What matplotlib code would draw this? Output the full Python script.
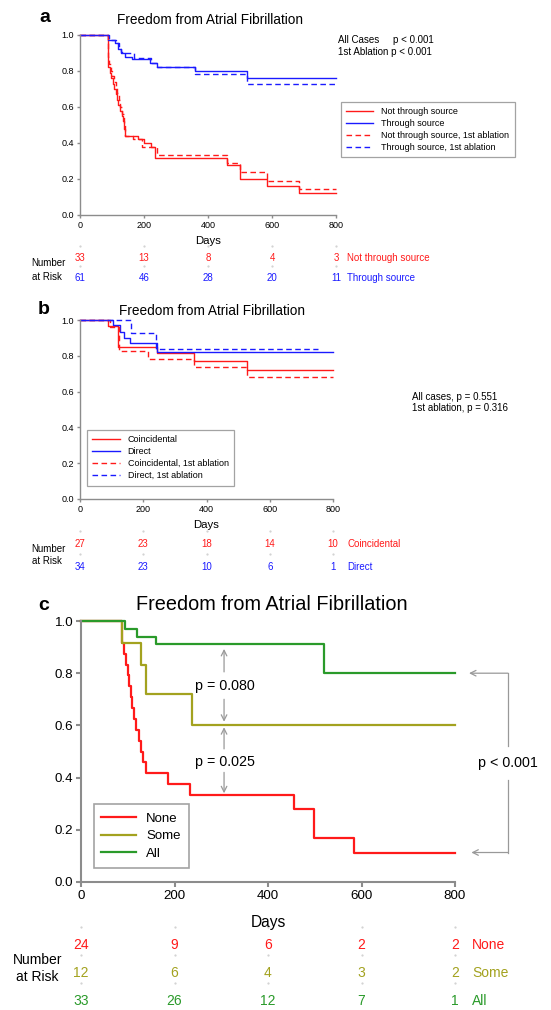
import matplotlib
matplotlib.use("Agg")
import matplotlib.pyplot as plt
from matplotlib.ticker import FormatStrFormatter
from matplotlib.transforms import blended_transform_factory

plt.rcParams['font.family'] = ['Liberation Sans', 'DejaVu Sans']

W, H = 551, 1010

# ---- data ----
day_ticks = [0, 200, 400, 600, 800]
surv_ticks = [0.0, 0.2, 0.4, 0.6, 0.8, 1.0]

# panel a
a_not_t = [0, 88, 89, 94, 98, 102, 107, 112, 117, 120, 125, 130, 133, 138, 141, 180, 200, 222, 234, 458, 500, 583, 685, 800]
a_not_s = [1.0, 0.85, 0.82, 0.79, 0.76, 0.73, 0.70, 0.67, 0.64, 0.61, 0.58, 0.55, 0.52, 0.48, 0.44, 0.42, 0.40, 0.38, 0.315, 0.28, 0.20, 0.16, 0.12, 0.12]
a_thr_t = [0, 88, 109, 120, 127, 141, 161, 219, 240, 360, 521, 800]
a_thr_s = [1.0, 0.975, 0.955, 0.925, 0.90, 0.88, 0.865, 0.845, 0.82, 0.80, 0.76, 0.76]
a_not1_t = [0, 88, 92, 96, 101, 106, 111, 116, 121, 126, 131, 136, 141, 165, 195, 240, 458, 500, 583, 685, 800]
a_not1_s = [1.0, 0.88, 0.84, 0.80, 0.77, 0.74, 0.71, 0.68, 0.64, 0.60, 0.56, 0.50, 0.44, 0.42, 0.38, 0.335, 0.29, 0.24, 0.19, 0.145, 0.145]
a_thr1_t = [0, 90, 111, 122, 129, 141, 170, 222, 240, 360, 521, 800]
a_thr1_s = [1.0, 0.975, 0.955, 0.925, 0.905, 0.90, 0.87, 0.845, 0.82, 0.785, 0.73, 0.73]
a_labels = ["Not through source", "Through source", "Not through source, 1st ablation", "Through source, 1st ablation"]
a_risk_not = [33, 13, 8, 4, 3]
a_risk_thr = [61, 46, 28, 20, 11]

# panel b
b_coin_t = [0, 90, 119, 243, 359, 527, 800]
b_coin_s = [1.0, 0.965, 0.85, 0.815, 0.77, 0.72, 0.72]
b_dir_t = [0, 105, 125, 140, 158, 243, 800]
b_dir_s = [1.0, 0.97, 0.935, 0.90, 0.87, 0.82, 0.82]
b_coin1_t = [0, 95, 123, 216, 359, 527, 800]
b_coin1_s = [1.0, 0.96, 0.825, 0.78, 0.74, 0.68, 0.68]
b_dir1_t = [0, 161, 240, 753]
b_dir1_s = [1.0, 0.93, 0.84, 0.84]
b_labels = ["Coincidental", "Direct", "Coincidental, 1st ablation", "Direct, 1st ablation"]
b_risk_coin = [27, 23, 18, 14, 10]
b_risk_dir = [34, 23, 10, 6, 1]

# panel c
c_none_t = [0, 87, 92, 96, 100, 103, 106, 110, 114, 118, 123, 128, 133, 140, 187, 233, 455, 498, 585, 800]
c_none_s = [1.0, 0.917, 0.875, 0.833, 0.792, 0.75, 0.708, 0.667, 0.625, 0.583, 0.542, 0.50, 0.458, 0.417, 0.375, 0.333, 0.278, 0.167, 0.111, 0.111]
c_some_t = [0, 87, 128, 139, 237, 800]
c_some_s = [1.0, 0.917, 0.833, 0.72, 0.60, 0.60]
c_all_t = [0, 94, 120, 160, 520, 800]
c_all_s = [1.0, 0.97, 0.94, 0.91, 0.80, 0.80]
c_labels = ["None", "Some", "All"]
c_risk_none = [24, 9, 6, 2, 2]
c_risk_some = [12, 6, 4, 3, 2]
c_risk_all = [33, 26, 12, 7, 1]

RED = '#ff1a1a'
BLUE = '#1a1aff'
OLIVE = '#a3a21f'
GREEN = '#2a9a2a'
GREY = '#8c8c8c'


def fx(px):
    return px / W


def fy(py):
    return 1 - py / H


def style_axes(ax, fs, lw, tlen):
    for s in ['top', 'right']:
        ax.spines[s].set_visible(False)
    for s in ['left', 'bottom']:
        ax.spines[s].set_color(GREY)
        ax.spines[s].set_linewidth(lw)
    ax.set_xlim(0, 800)
    ax.set_ylim(0, 1)
    ax.set_xticks(day_ticks)
    ax.set_yticks(surv_ticks)
    ax.yaxis.set_major_formatter(FormatStrFormatter('%.1f'))
    ax.tick_params(direction='out', length=tlen, width=lw, color=GREY, labelsize=fs, pad=2)


def risk_rows(ax, rows, ys, colors, names, fs, label_x, dot_dy):
    tr = blended_transform_factory(ax.transData, fig.transFigure)
    for vals, y, col, name in zip(rows, ys, colors, names):
        for d, v in zip(day_ticks, vals):
            ax.text(d, fy(y), str(v), transform=tr, color=col, fontsize=fs,
                    ha='center', va='center', clip_on=False)
            ax.plot([d], [fy(y - dot_dy)], transform=tr, marker='.', ms=1.2,
                    color='#d0d0d0', clip_on=False)
        ax.text(label_x, fy(y), name, transform=tr, color=col, fontsize=fs,
                ha='left', va='center', clip_on=False)


fig = plt.figure(figsize=(W / 100, H / 100), dpi=100)

# ---------------- panel a ----------------
ax_a = fig.add_axes([fx(80), fy(215), fx(336) - fx(80), (215 - 35) / H])
style_axes(ax_a, 6.5, 1.0, 2.5)
ax_a.step(a_not_t, a_not_s, where='post', color=RED, lw=1.0, clip_on=False, label=a_labels[0])
ax_a.step(a_thr_t, a_thr_s, where='post', color=BLUE, lw=1.0, clip_on=False, label=a_labels[1])
ax_a.step(a_not1_t, a_not1_s, where='post', color=RED, lw=1.0, ls=(0, (4, 2.5)), clip_on=False, label=a_labels[2])
ax_a.step(a_thr1_t, a_thr1_s, where='post', color=BLUE, lw=1.0, ls=(0, (4, 2.5)), clip_on=False, label=a_labels[3])
leg = ax_a.legend(loc='upper left', bbox_to_anchor=(1.0, 0.655), fontsize=6.5, fancybox=False,
                  edgecolor=GREY, handlelength=3.0, labelspacing=0.32, borderpad=0.6, handletextpad=0.9)
leg.get_frame().set_linewidth(0.9)
tr_a = blended_transform_factory(ax_a.transData, fig.transFigure)
ax_a.text(400, fy(241), 'Days', transform=tr_a, fontsize=8.2, ha='center', va='center')
fig.text(fx(45), fy(18), 'a', fontsize=14, weight='bold', ha='center', va='center')
fig.text(fx(210), fy(20), 'Freedom from Atrial Fibrillation', fontsize=9.8, ha='center', va='center')
fig.text(fx(338), fy(40), 'All Cases', fontsize=7, va='center')
fig.text(fx(393), fy(40), 'p < 0.001', fontsize=7, va='center')
fig.text(fx(338), fy(52), '1st Ablation p < 0.001', fontsize=7, va='center')
fig.text(fx(48), fy(263), 'Number', fontsize=7, ha='center', va='center')
fig.text(fx(47), fy(277), 'at Risk', fontsize=7, ha='center', va='center')
risk_rows(ax_a, [a_risk_not, a_risk_thr], [258, 278], [RED, BLUE],
          ['Not through source', 'Through source'], 7, 834, 12)

# ---------------- panel b ----------------
ax_b = fig.add_axes([fx(80), fy(499), fx(333) - fx(80), (499 - 320) / H])
style_axes(ax_b, 6.5, 1.0, 2.5)
ax_b.step(b_coin_t, b_coin_s, where='post', color=RED, lw=1.0, clip_on=False, label=b_labels[0])
ax_b.step(b_dir_t, b_dir_s, where='post', color=BLUE, lw=1.0, clip_on=False, label=b_labels[1])
ax_b.step(b_coin1_t, b_coin1_s, where='post', color=RED, lw=1.0, ls=(0, (4, 2.5)), clip_on=False, label=b_labels[2])
ax_b.step(b_dir1_t, b_dir1_s, where='post', color=BLUE, lw=1.0, ls=(0, (4, 2.5)), clip_on=False, label=b_labels[3])
leg = ax_b.legend(loc='lower left', bbox_to_anchor=(0.01, 0.05), fontsize=6.5, fancybox=False,
                  edgecolor=GREY, handlelength=3.0, labelspacing=0.32, borderpad=0.6, handletextpad=0.9)
leg.get_frame().set_linewidth(0.9)
tr_b = blended_transform_factory(ax_b.transData, fig.transFigure)
ax_b.text(400, fy(525), 'Days', transform=tr_b, fontsize=8.2, ha='center', va='center')
fig.text(fx(44), fy(310), 'b', fontsize=14, weight='bold', ha='center', va='center')
fig.text(fx(212), fy(311), 'Freedom from Atrial Fibrillation', fontsize=9.8, ha='center', va='center')
fig.text(fx(412), fy(397), 'All cases, p = 0.551', fontsize=7, va='center')
fig.text(fx(412), fy(408), '1st ablation, p = 0.316', fontsize=7, va='center')
fig.text(fx(48), fy(549), 'Number', fontsize=7, ha='center', va='center')
fig.text(fx(47), fy(561), 'at Risk', fontsize=7, ha='center', va='center')
risk_rows(ax_b, [b_risk_coin, b_risk_dir], [544, 567], [RED, BLUE],
          ['Coincidental', 'Direct'], 7, 845, 13)

# ---------------- panel c ----------------
ax_c = fig.add_axes([fx(81), fy(882), fx(455) - fx(81), (882 - 621) / H])
style_axes(ax_c, 9.6, 1.5, 3.5)
ax_c.step(c_none_t, c_none_s, where='post', color=RED, lw=1.6, clip_on=False, label=c_labels[0])
ax_c.step(c_some_t, c_some_s, where='post', color=OLIVE, lw=1.6, clip_on=False, label=c_labels[1])
ax_c.step(c_all_t, c_all_s, where='post', color=GREEN, lw=1.6, clip_on=False, label=c_labels[2])
leg = ax_c.legend(loc='lower left', bbox_to_anchor=(0.016, 0.03), fontsize=9.5, fancybox=False,
                  edgecolor=GREY, handlelength=2.6, labelspacing=0.4, borderpad=0.6, handletextpad=0.8)
leg.get_frame().set_linewidth(1.2)

arrow = dict(arrowstyle='->', color='#999999', lw=0.9, shrinkA=0, shrinkB=0)
ax_c.annotate('', xy=(306, 0.893), xytext=(306, 0.805), arrowprops=arrow)
ax_c.annotate('', xy=(306, 0.614), xytext=(306, 0.70), arrowprops=arrow)
ax_c.annotate('', xy=(306, 0.593), xytext=(306, 0.51), arrowprops=arrow)
ax_c.annotate('', xy=(306, 0.34), xytext=(306, 0.42), arrowprops=arrow)
ax_c.text(308, 0.75, 'p = 0.080', fontsize=10.3, ha='center', va='center')
ax_c.text(308, 0.46, 'p = 0.025', fontsize=10.3, ha='center', va='center')

# bracket on the right
ax_c.plot([913, 913], [0.80, 0.52], color='#999999', lw=0.9, clip_on=False)
ax_c.plot([913, 913], [0.39, 0.113], color='#999999', lw=0.9, clip_on=False)
ax_c.annotate('', xy=(830, 0.80), xytext=(913, 0.80), arrowprops=arrow, annotation_clip=False)
ax_c.annotate('', xy=(835, 0.113), xytext=(913, 0.113), arrowprops=arrow, annotation_clip=False)
ax_c.text(913, 0.456, 'p < 0.001', fontsize=10.3, ha='center', va='center', clip_on=False)

tr_c = blended_transform_factory(ax_c.transData, fig.transFigure)
ax_c.text(400, fy(922), 'Days', transform=tr_c, fontsize=11.2, ha='center', va='center')
fig.text(fx(44), fy(606), 'c', fontsize=14, weight='bold', ha='center', va='center')
fig.text(fx(272), fy(605), 'Freedom from Atrial Fibrillation', fontsize=14.3, ha='center', va='center')
fig.text(fx(38), fy(960), 'Number', fontsize=10, ha='center', va='center')
fig.text(fx(37), fy(977), 'at Risk', fontsize=10, ha='center', va='center')
risk_rows(ax_c, [c_risk_none, c_risk_some, c_risk_all], [945, 973, 1001],
          [RED, OLIVE, GREEN], c_labels, 10, 836, 18)

fig.savefig('out.png', dpi=100)
